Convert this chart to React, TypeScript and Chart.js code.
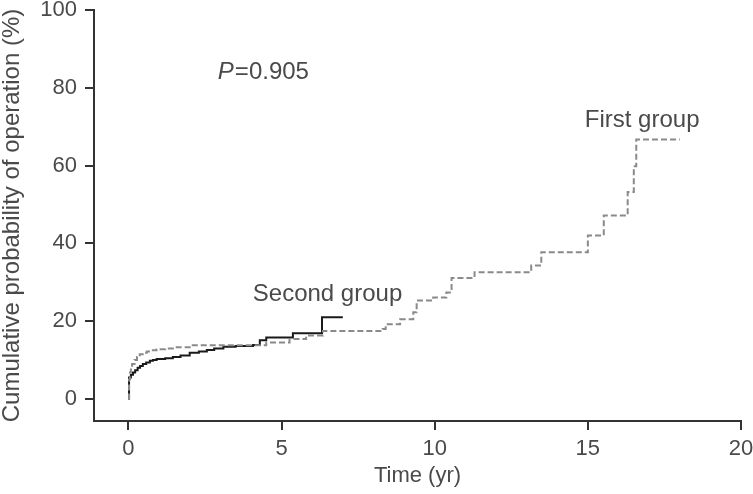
import React, { useEffect, useRef } from "react";
import { Chart, registerables } from "chart.js";

Chart.register(...registerables);

// First group (grey dashed) – cumulative probability (%) vs time (yr)
const firstTimes = [0, 0.02, 0.05, 0.08, 0.12, 0.2, 0.28, 0.37, 0.5, 0.6, 0.75, 0.92, 1.2, 1.5, 2.0, 4.07, 4.5, 5.26, 5.8, 6.35, 8.3, 8.4, 8.87, 9.3, 9.41, 9.95, 10.38, 10.55, 11.3, 13.15, 13.48, 15.0, 15.52, 16.3, 16.5, 16.58, 18.0];
const firstValues = [0, 5, 6.8, 8, 9, 10, 10.8, 11.5, 11.9, 12.2, 12.5, 12.8, 13.0, 13.3, 13.8, 13.8, 14.5, 15.4, 16.3, 17.5, 18, 19.2, 20.5, 22.3, 25.3, 26.1, 27.4, 31.1, 32.6, 34.3, 37.7, 42, 47.2, 53.2, 59.8, 66.7, 66.7];

// Second group (black solid)
const secondTimes = [0, 0.02, 0.08, 0.15, 0.22, 0.3, 0.38, 0.47, 0.58, 0.7, 0.8, 0.92, 1.2, 1.45, 1.7, 2.0, 2.3, 2.56, 2.8, 3.1, 3.5, 4.07, 4.29, 4.5, 5.37, 6.32, 7.0];
const secondValues = [0, 5.5, 6.2, 6.8, 7.4, 8, 8.5, 9, 9.4, 9.8, 10.0, 10.3, 10.5, 10.8, 11.2, 11.9, 12.2, 12.6, 13.0, 13.4, 13.6, 13.9, 15.1, 15.8, 16.9, 21, 21];

const xTicks = [0, 5, 10, 15, 20];
const yTicks = [0, 20, 40, 60, 80, 100];

const FONT = "'Liberation Sans', 'Helvetica Neue', Arial, sans-serif";
const TEXT = "#4a4a4a";
const AXIS = "#333333";

const annotationPlugin = {
  id: "kmAnnotations",
  afterDatasetsDraw(chart: any) {
    const { ctx, scales } = chart;
    const xs = scales.x;
    const ys = scales.y;
    ctx.save();
    ctx.fillStyle = TEXT;
    ctx.textBaseline = "middle";
    ctx.textAlign = "left";
    // P value
    let px = xs.getPixelForValue(2.92);
    const py = ys.getPixelForValue(84);
    ctx.font = `italic 24px ${FONT}`;
    ctx.fillText("P", px, py);
    px += ctx.measureText("P").width + 1;
    ctx.font = `24px ${FONT}`;
    ctx.fillText("=0.905", px, py);
    // group labels
    ctx.fillText("Second group", xs.getPixelForValue(4.06), ys.getPixelForValue(27));
    ctx.fillText("First group", xs.getPixelForValue(14.9), ys.getPixelForValue(71.6));
    ctx.restore();
  },
};

export default function App() {
  const ref = useRef<HTMLCanvasElement | null>(null);

  useEffect(() => {
    if (!ref.current) return;
    const chart = new Chart(ref.current, {
      type: "line",
      data: {
        datasets: [
          {
            label: "First group",
            data: firstTimes.map((t, i) => ({ x: t, y: firstValues[i] })),
            borderColor: "#8a8a8a",
            borderWidth: 2,
            borderDash: [6, 3],
            stepped: "before",
            pointRadius: 0,
            fill: false,
          },
          {
            label: "Second group",
            data: secondTimes.map((t, i) => ({ x: t, y: secondValues[i] })),
            borderColor: "#1a1a1a",
            borderWidth: 2,
            stepped: "before",
            pointRadius: 0,
            fill: false,
          },
        ],
      },
      options: {
        responsive: false,
        animation: false,
        layout: { padding: { top: 10, right: 12, left: 0, bottom: 0 } },
        plugins: { legend: { display: false }, tooltip: { enabled: false } },
        scales: {
          x: {
            type: "linear",
            min: -1.124,
            max: 20,
            afterBuildTicks: (s: any) => {
              s.ticks = xTicks.map((v) => ({ value: v }));
            },
            afterFit: (s: any) => {
              s.height = 73;
              s.paddingLeft = 0;
              s.paddingRight = 0;
            },
            grid: { display: true, drawOnChartArea: false, drawTicks: true, tickLength: 9, color: AXIS, lineWidth: 2 },
            border: { display: true, color: AXIS, width: 2 },
            ticks: { color: TEXT, font: { family: FONT, size: 22 }, padding: 6, maxRotation: 0 },
            title: {
              display: true,
              text: "Time (yr)",
              color: TEXT,
              font: { family: FONT, size: 22, lineHeight: 1.2 },
              padding: { top: 0, bottom: 5 },
            },
          },
          y: {
            type: "linear",
            min: -5.66,
            max: 100,
            afterBuildTicks: (s: any) => {
              s.ticks = yTicks.map((v) => ({ value: v }));
            },
            afterFit: (s: any) => {
              s.width = 94;
              s.paddingTop = 0;
              s.paddingBottom = 0;
            },
            grid: { display: true, drawOnChartArea: false, drawTicks: true, tickLength: 9, color: AXIS, lineWidth: 2 },
            border: { display: true, color: AXIS, width: 2 },
            ticks: { color: TEXT, font: { family: FONT, size: 22 }, padding: 8 },
            title: {
              display: true,
              text: "Cumulative probability of operation (%)",
              color: TEXT,
              font: { family: FONT, size: 24, lineHeight: 1 },
              padding: { top: 0, bottom: 0 },
            },
          },
        },
      },
      plugins: [annotationPlugin],
    } as any);
    return () => chart.destroy();
  }, []);

  return (
    <div style={{ position: "absolute", left: 0, top: 0, width: 753, height: 494, background: "#fff" }}>
      <canvas ref={ref} width={753} height={494} style={{ display: "block" }} />
    </div>
  );
}
